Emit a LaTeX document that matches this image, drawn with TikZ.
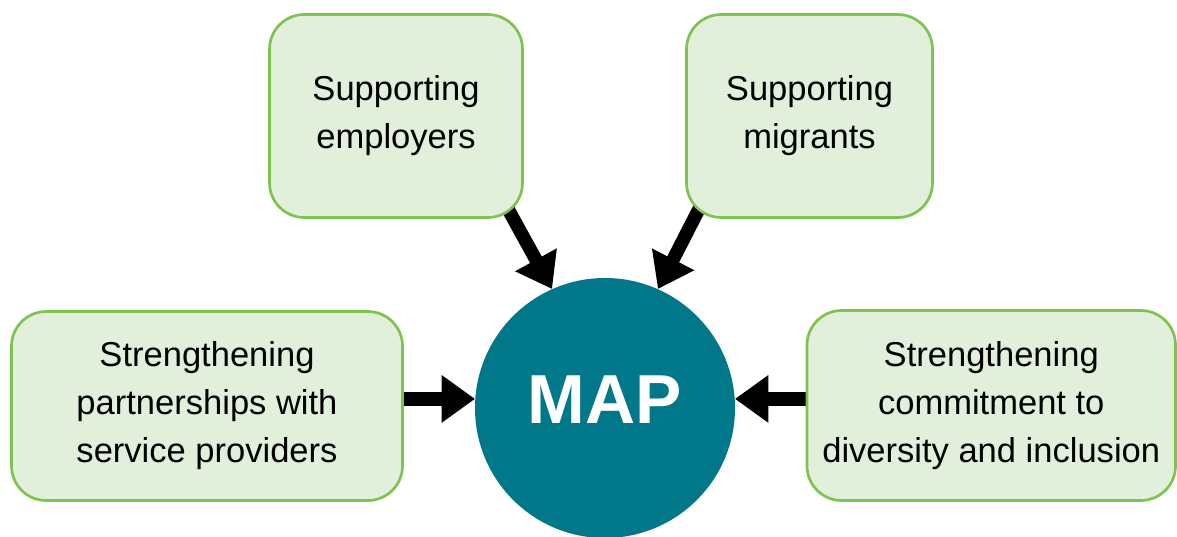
\documentclass[tikz,border=0pt]{standalone}
\usepackage{fontspec}
\setmainfont{Liberation Sans}
\usetikzlibrary{arrows.meta,backgrounds}

\definecolor{boxfill}{HTML}{E2EFDA}
\definecolor{boxline}{HTML}{7DC34F}
\definecolor{hubteal}{HTML}{00788A}

\begin{document}
\begin{tikzpicture}[x=0.75pt,y=0.75pt,
>={Triangle[length=25pt,width=34pt]},
box/.style={rectangle,rounded corners=26pt,draw=boxline,line width=2pt,
  fill=boxfill,align=center,font=\fontsize{25.9}{36}\selectfont},
hub/.style={circle,fill=hubteal,minimum size=195pt,inner sep=0pt,
  text=white,font=\bfseries\fontsize{52}{60}\selectfont,
  text height=37.5pt,text depth=15pt},
feed/.style={line width=10pt}]
\useasboundingbox (0,0) rectangle (1177,536);
% centre and the four areas round it
\node[hub] (map) at (605,128) {MAP};
\node[box,minimum width=189.75pt,minimum height=152.25pt] (emp) at (396,420)
  {Supporting\\employers};
\node[box,minimum width=184.5pt,minimum height=152.25pt] (mig) at (809.5,420)
  {Supporting\\migrants};
\node[box,minimum width=293.25pt,minimum height=141.75pt] (prov) at (207,130)
  {Strengthening\\partnerships with\\service providers};
\node[box,minimum width=276.4pt,minimum height=142.5pt] (div) at (991.25,130.5)
  {Strengthening\\commitment to\\diversity and inclusion};
% arrows into MAP
\begin{scope}[on background layer]
\path[->,feed]
([shift={(-15pt,13pt)}]emp.south east) edge (map.114);
\path[->,feed]
([shift={(13.5pt,13.5pt)}]mig.south west) edge (map.66);
\path[->,feed]
(prov.east |- map.176) edge (map.176);
\path[->,feed]
(div.west |- map.4) edge (map.4);
\end{scope}
\end{tikzpicture}
\end{document}
